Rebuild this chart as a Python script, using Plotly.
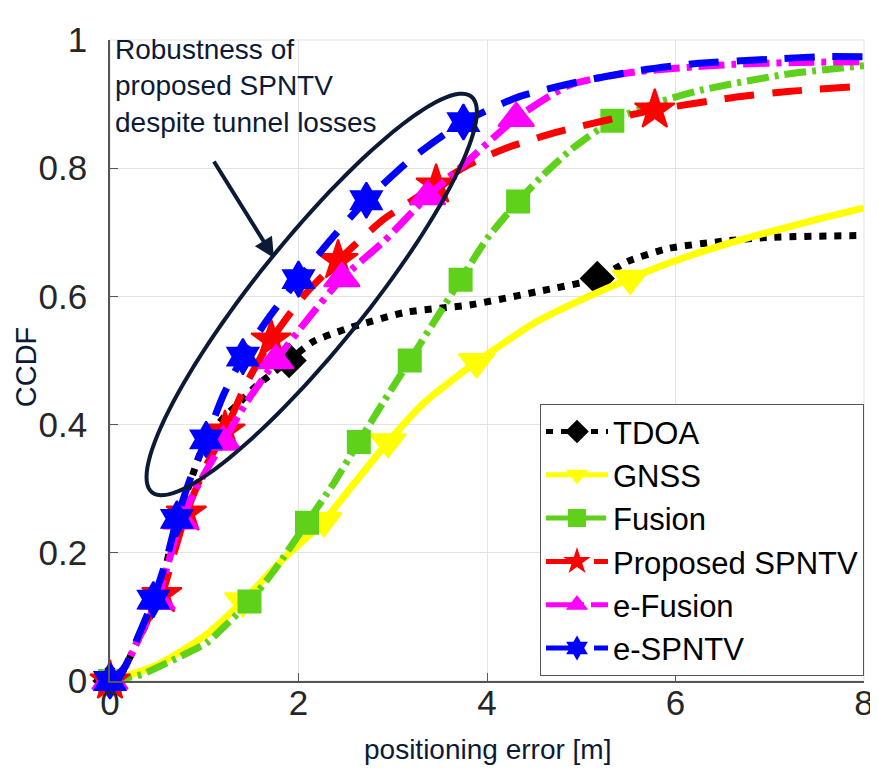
import numpy as np
import plotly.graph_objects as go

# CCDF curves (positioning error in m, CCDF value)
tdoa_x = [0, 0.15, 0.3, 0.5, 0.7, 0.85, 1.0, 1.2, 1.37, 1.55, 1.9, 2.15, 2.5, 3.13, 3.83, 4.52, 5.17, 5.5, 5.93, 6.5, 6.98, 8.0]
tdoa_y = [0, 0.02, 0.065, 0.125, 0.245, 0.31, 0.37, 0.41, 0.434, 0.46, 0.5, 0.529, 0.549, 0.575, 0.587, 0.607, 0.628, 0.655, 0.675, 0.686, 0.692, 0.695]
tdoa_mx = [0, 1.9, 5.17]
tdoa_my = [0, 0.5, 0.628]

gnss_x = [0, 0.5, 1.0, 1.41, 1.8, 2.27, 2.6, 2.95, 3.34, 3.89, 4.52, 5.05, 5.52, 5.93, 6.5, 6.98, 7.5, 8.0]
gnss_y = [0, 0.025, 0.07, 0.125, 0.185, 0.25, 0.31, 0.373, 0.435, 0.498, 0.56, 0.598, 0.628, 0.652, 0.68, 0.70, 0.72, 0.738]
gnss_mx = [0, 1.41, 2.27, 2.95, 3.89, 5.52]
gnss_my = [0, 0.125, 0.25, 0.373, 0.498, 0.628]

fusion_x = [0, 0.33, 0.7, 1.03, 1.25, 1.48, 1.73, 2.09, 2.38, 2.64, 2.9, 3.18, 3.45, 3.72, 4.0, 4.33, 4.6, 4.9, 5.33, 5.8, 6.28, 7.15, 8.0]
fusion_y = [0, 0.01, 0.035, 0.06, 0.09, 0.124, 0.17, 0.247, 0.31, 0.373, 0.435, 0.5, 0.563, 0.626, 0.69, 0.748, 0.79, 0.83, 0.874, 0.902, 0.922, 0.946, 0.96]
fusion_mx = [0, 1.48, 2.09, 2.64, 3.18, 3.72, 4.33, 5.33]
fusion_my = [0, 0.124, 0.247, 0.373, 0.5, 0.626, 0.748, 0.874]

spntv_x = [0, 0.15, 0.32, 0.55, 0.68, 0.81, 1.0, 1.22, 1.45, 1.71, 2.05, 2.42, 2.9, 3.16, 3.46, 3.8, 4.18, 4.73, 5.3, 5.78, 6.6, 7.22, 8.0]
spntv_y = [0, 0.02, 0.075, 0.135, 0.2, 0.262, 0.33, 0.39, 0.465, 0.532, 0.6, 0.656, 0.72, 0.745, 0.774, 0.805, 0.83, 0.856, 0.876, 0.891, 0.91, 0.92, 0.928]
spntv_mx = [0, 0.55, 0.81, 1.22, 1.71, 2.42, 3.46, 5.78]
spntv_my = [0, 0.135, 0.262, 0.39, 0.532, 0.656, 0.774, 0.891]

efusion_x = [0, 0.15, 0.3, 0.5, 0.62, 0.75, 0.95, 1.2, 1.45, 1.76, 2.1, 2.46, 2.9, 3.37, 3.75, 4.31, 4.88, 5.57, 6.2, 6.62, 7.3, 8.0]
efusion_y = [0, 0.02, 0.065, 0.125, 0.185, 0.25, 0.31, 0.373, 0.435, 0.5, 0.565, 0.628, 0.685, 0.756, 0.805, 0.878, 0.93, 0.95, 0.958, 0.962, 0.965, 0.966]
efusion_mx = [0, 0.5, 0.75, 1.2, 1.76, 2.46, 3.37, 4.31]
efusion_my = [0, 0.125, 0.25, 0.373, 0.5, 0.628, 0.756, 0.878]

espntv_x = [0, 0.15, 0.3, 0.46, 0.6, 0.71, 0.85, 1.02, 1.2, 1.41, 1.7, 2.0, 2.35, 2.72, 3.2, 3.75, 4.35, 4.98, 5.6, 6.2, 7.0, 7.54, 8.0]
espntv_y = [0, 0.02, 0.07, 0.127, 0.19, 0.253, 0.315, 0.377, 0.445, 0.506, 0.57, 0.627, 0.69, 0.75, 0.815, 0.872, 0.912, 0.935, 0.952, 0.963, 0.970, 0.974, 0.974]
espntv_mx = [0, 0.46, 0.71, 1.02, 1.41, 2.0, 2.72, 3.75]
espntv_my = [0, 0.127, 0.253, 0.377, 0.506, 0.627, 0.75, 0.872]

x_ticks = [0, 2, 4, 6, 8]
y_ticks = [0, 0.2, 0.4, 0.6, 0.8, 1]
y_tick_text = ['0', '0.2', '0.4', '0.6', '0.8', '1']

FONT = 'Liberation Sans, Arial'
NAVY = '#0c1a36'

series = [
    ('TDOA', tdoa_x, tdoa_y, tdoa_mx, tdoa_my, 'black', '7px,8px', 'diamond', 25),
    ('GNSS', gnss_x, gnss_y, gnss_mx, gnss_my, '#ffff00', 'solid', 'triangle-down', 31),
    ('Fusion', fusion_x, fusion_y, fusion_mx, fusion_my, '#5fd11a', '22px,6px,4px,6px', 'square', 22),
    ('Proposed SPNTV', spntv_x, spntv_y, spntv_mx, spntv_my, '#ff0000', '30px,18px', 'star', 30),
    ('e-Fusion', efusion_x, efusion_y, efusion_mx, efusion_my, '#ff00ff', '26px,7px,5px,7px', 'triangle-up', 31),
    ('e-SPNTV', espntv_x, espntv_y, espntv_mx, espntv_my, '#0000ff', '30px,18px', 'hexagram', 27),
]

fig = go.Figure()
for name, x, y, mx, my, col, dash, sym, size in series:
    fig.add_trace(go.Scatter(x=x, y=y, mode='lines', showlegend=False,
                             line=dict(color=col, width=7, dash=dash, shape='spline', smoothing=0.6)))
    fig.add_trace(go.Scatter(x=mx, y=my, mode='markers', showlegend=False, cliponaxis=False,
                             marker=dict(symbol=sym, size=size, color=col,
                                         line=dict(color=col, width=2))))
# legend entries
for name, x, y, mx, my, col, dash, sym, size in series:
    fig.add_trace(go.Scatter(x=[None], y=[None], mode='lines+markers', name=name,
                             line=dict(color=col, width=5, dash=dash),
                             marker=dict(symbol=sym, size=16, color=col,
                                         line=dict(color=col, width=2))))

# rotated ellipse around the SPNTV curves (built in pixel space, then mapped to data)
px_x = 762 / 8.0
px_y = 652 / 1.0
cx, cy = 2.14, 0.603
a_px, b_px, ang = 258, 55, np.deg2rad(51.3)
t = np.linspace(0, 2 * np.pi, 121)
ex = cx + (a_px * np.cos(t) * np.cos(ang) - b_px * np.sin(t) * np.sin(ang)) / px_x
ey = cy + (a_px * np.cos(t) * np.sin(ang) + b_px * np.sin(t) * np.cos(ang)) / px_y
path = 'M ' + ' L '.join(f'{u:.4f},{v:.4f}' for u, v in zip(ex, ey)) + ' Z'

shapes = [
    dict(type='rect', xref='paper', yref='paper', x0=0, y0=0, x1=1, y1=1,
         line=dict(color='#e3e3e3', width=1), layer='below'),
    dict(type='path', path=path, xref='x', yref='y', line=dict(color=NAVY, width=4)),
]

annotations = [
    dict(xref='paper', yref='paper', x=0.004, y=1.012, xanchor='left', yanchor='top',
         text='Robustness of<br>proposed SPNTV<br>despite tunnel losses', align='left',
         showarrow=False, font=dict(family=FONT, size=28, color=NAVY)),
    dict(x=1.74, y=0.66, xref='x', yref='y', text='', showarrow=True,
         ax=-61, ay=-98, arrowhead=2, arrowsize=1, arrowwidth=4, arrowcolor=NAVY, standoff=0),
    dict(xref='paper', yref='paper', x=0.5, y=-0.08, xanchor='center', yanchor='top',
         text='positioning error [m]', showarrow=False, font=dict(family=FONT, size=28, color=NAVY)),
    dict(xref='paper', yref='paper', x=-0.111, y=0.49, xanchor='center', yanchor='middle', textangle=-90,
         text='CCDF', showarrow=False, font=dict(family=FONT, size=29, color=NAVY)),
]

fig.update_layout(
    width=878, height=776,
    margin=dict(l=102, r=14, t=21, b=103),
    plot_bgcolor='white', paper_bgcolor='white',
    shapes=shapes, annotations=annotations,
    legend=dict(x=1, y=0.008, xanchor='right', yanchor='bottom', bgcolor='white',
                bordercolor='#555555', borderwidth=1, itemwidth=62,
                font=dict(family=FONT, size=31, color='black'), tracegroupgap=0),
)
fig.update_xaxes(range=[0, 8], tickvals=x_ticks, showgrid=True, gridcolor='#e3e3e3',
                 showline=True, linecolor='#555555', linewidth=1.5, ticks='inside', ticklen=8,
                 tickcolor='#555555', zeroline=False, ticklabelstandoff=-10,
                 tickfont=dict(family=FONT, size=35, color='#262626'))
fig.update_yaxes(range=[0, 1], tickvals=y_ticks, ticktext=y_tick_text, showgrid=True, gridcolor='#e3e3e3',
                 showline=True, linecolor='#555555', linewidth=1.5, ticks='inside', ticklen=8,
                 tickcolor='#555555', zeroline=False, ticklabelstandoff=14,
                 tickfont=dict(family=FONT, size=35, color='#262626'))

fig.write_html('out.html')
